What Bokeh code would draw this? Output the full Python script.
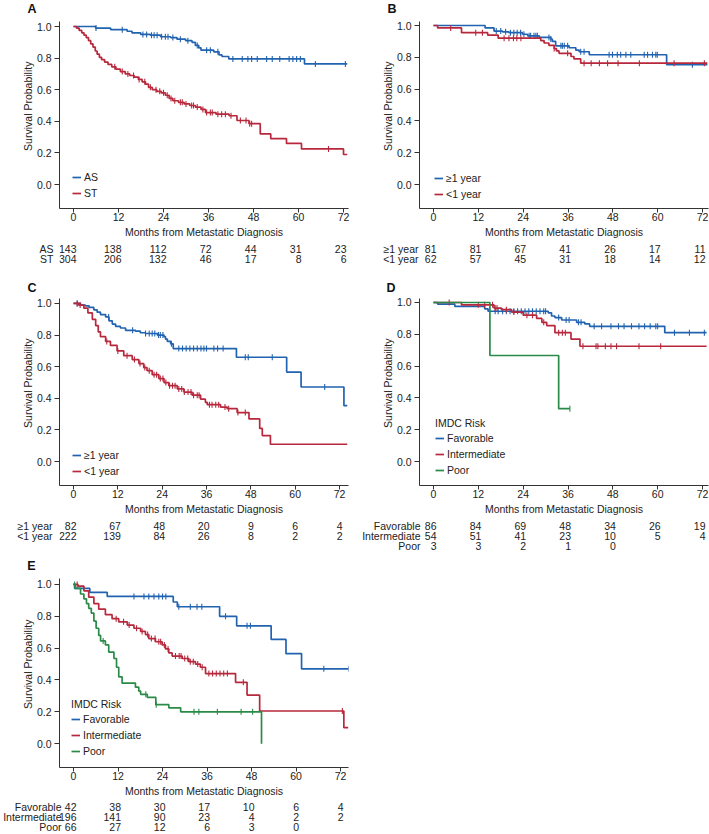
import math
from bokeh.plotting import figure
from bokeh.models import Range1d, FixedTicker, NumeralTickFormatter, Legend, LegendItem
from bokeh.layouts import row, column
from bokeh.embed import file_html
from bokeh.resources import INLINE
from bokeh.core.properties import value

FONT = "Liberation Sans"
BLUE = "#2163b0"
RED = "#b8283c"
GREEN = "#2a8a48"
TXT = "#222222"
FS = "10.5px"

MONTHS = [0, 12, 24, 36, 48, 60, 72]
YTICKS = [0.0, 0.2, 0.4, 0.6, 0.8, 1.0]
XLABEL = "Months from Metastatic Diagnosis"
YLABEL = "\u00a0" * 6 + "Survival Probability"

# ---------------- Panel A ----------------
A_AS_t = [0, 5.9, 9.9, 14.3, 15.6, 17.9, 20.5, 23.2, 25.9, 27.6, 29.9, 31.6, 32.5, 33.4, 34.0, 37.4, 38.8, 39.6, 41.4, 61.6]
A_AS_s = [1.0, 0.99, 0.98, 0.97, 0.96, 0.95, 0.945, 0.935, 0.93, 0.92, 0.91, 0.90, 0.88, 0.865, 0.85, 0.84, 0.82, 0.81, 0.795, 0.763]
A_AS_end = 73.0
A_AS_c = [6, 13, 18.5, 19.5, 20.8, 21.5, 22.3, 23.5, 24.5, 25.2, 26.5, 28.5, 30.5, 33, 35.5, 36.5, 38.5, 42.5, 45, 46.5,
          47.5, 49, 51.5, 53, 55, 57.5, 58.5, 59.5, 60.5, 64.5, 72.5]
A_ST_t = [0, 0.8, 1.5, 2.2, 2.8, 3.4, 4.0, 4.6, 5.2, 5.8, 6.3, 6.9, 7.5, 8.3, 9.2, 10.2, 11.3, 12.5, 13.8, 15.0, 16.2, 17.3,
          18.3, 19.2, 20.0, 21.0, 22.2, 23.4, 24.5, 25.5, 26.5, 28.0, 29.5, 31.0, 32.5, 34.0, 35.2, 38.0, 41.5, 43.6, 46.8,
          49.8, 52.6, 56.8, 60.8, 72.0]
A_ST_s = [1.0, 0.99, 0.975, 0.96, 0.945, 0.93, 0.91, 0.89, 0.87, 0.845, 0.825, 0.805, 0.79, 0.775, 0.76, 0.745, 0.73, 0.715,
          0.70, 0.69, 0.68, 0.665, 0.65, 0.635, 0.615, 0.60, 0.59, 0.58, 0.565, 0.545, 0.53, 0.52, 0.51, 0.50, 0.49, 0.475,
          0.455, 0.445, 0.435, 0.405, 0.385, 0.32, 0.29, 0.26, 0.225, 0.19]
A_ST_end = 73.0
A_ST_c = [11, 13, 14.5, 16, 17.5, 19, 20.5, 22, 23, 24, 25, 26, 27, 28.5, 29, 30, 31.5, 32, 33, 34.5, 35.5, 36.5, 37, 38.5,
          39.5, 40.5, 42, 44.5, 46, 47, 47.5, 68]
A_rows = ["AS", "ST"]
A_AS_n = [143, 138, 112, 72, 44, 31, 23]
A_ST_n = [304, 206, 132, 46, 17, 8, 6]

# ---------------- Panel B ----------------
B_G1_t = [0, 13.8, 16.2, 18.5, 20.2, 23.8, 25.2, 28.3, 31.4, 31.8, 32.7, 36.3, 38.1, 39.0, 41.7, 62.4]
B_G1_s = [1.0, 0.985, 0.965, 0.96, 0.955, 0.945, 0.935, 0.925, 0.915, 0.90, 0.872, 0.86, 0.845, 0.835, 0.816, 0.753]
B_G1_end = 73.3
B_G1_c = [16.8, 18.0, 19.3, 20.6, 21.5, 22.4, 23.3, 24.2, 25.6, 26.0, 26.9, 27.4, 27.8, 30.9, 31.4, 34.1, 34.5, 35.0, 35.9,
          39.4, 40.3, 47.0, 47.9, 49.2, 50.1, 51.5, 52.8, 56.4, 57.3, 58.6, 59.5, 59.9, 69.3]
B_L1_t = [0, 1.1, 7.5, 14.5, 17.3, 28.7, 29.6, 30.9, 32.3, 32.9, 33.6, 36.8, 37.6, 39.4]
B_L1_s = [1.0, 0.985, 0.955, 0.94, 0.92, 0.905, 0.89, 0.875, 0.855, 0.84, 0.825, 0.805, 0.79, 0.763]
B_L1_end = 73.3
B_L1_c = [4.6, 11.3, 13.1, 18.9, 20.2, 21.4, 22.3, 23.4, 32.3, 35.9, 40.3, 42.2, 44.4, 46.6, 49.4, 55.1, 64.4, 72.5]
B_rows = ["\u22651 year", "<1 year"]
B_G1_n = [81, 81, 67, 41, 26, 17, 11]
B_L1_n = [62, 57, 45, 31, 18, 14, 12]

# ---------------- Panel C ----------------
C_G1_t = [0, 1.9, 3.2, 4.2, 5.5, 6.4, 7.3, 8.7, 9.6, 10.5, 11.4, 12.7, 14.1, 16.8, 18.1, 19.5, 22.7, 24.5, 24.9, 25.4,
          26.3, 27.0, 44.1, 57.7, 61.6, 73.2]
C_G1_s = [1.0, 0.99, 0.985, 0.975, 0.96, 0.945, 0.93, 0.915, 0.89, 0.87, 0.855, 0.845, 0.83, 0.825, 0.815, 0.81, 0.80,
          0.79, 0.775, 0.76, 0.745, 0.715, 0.66, 0.566, 0.472, 0.354]
C_G1_end = 74.1
C_G1_c = [1.0, 9.5, 16.0, 19.5, 20.5, 21.3, 22.0, 23.0, 23.5, 24.2, 26.5, 28.5, 29.5, 30.5, 31.5, 32.5, 33.5, 34.5, 35.3,
          36.0, 38.0, 39.0, 40.5, 46.5, 47.3, 53.8, 68.0]
C_L1_t = [0, 1.4, 2.8, 3.9, 5.1, 6.0, 6.7, 7.3, 8.7, 10.0, 11.8, 13.6, 15.9, 17.7, 19.0, 19.9, 21.3, 23.1, 24.5, 25.8,
          28.1, 29.9, 32.1, 34.4, 35.7, 36.2, 39.8, 41.6, 44.3, 47.5, 50.4, 51.1, 53.3]
C_L1_s = [1.0, 0.99, 0.97, 0.94, 0.90, 0.86, 0.82, 0.79, 0.76, 0.735, 0.70, 0.67, 0.645, 0.62, 0.595, 0.575, 0.55, 0.525,
          0.50, 0.48, 0.46, 0.44, 0.42, 0.395, 0.375, 0.36, 0.345, 0.335, 0.31, 0.27, 0.21, 0.165, 0.11]
C_L1_end = 74.1
C_L1_c = [1.0, 1.8, 9.0, 12.0, 14.5, 16.5, 18.0, 19.3, 20.5, 21.8, 22.5, 23.5, 24.2, 25.0, 26.0, 26.8, 27.5, 28.5, 29.3,
          30.0, 31.0, 31.8, 32.5, 33.5, 34.0, 36.8, 37.5, 38.5, 39.3, 41.0, 42.0, 44.5, 46.5]
C_rows = ["\u22651 year", "<1 year"]
C_G1_n = [82, 67, 48, 20, 9, 6, 4]
C_L1_n = [222, 139, 84, 26, 8, 2, 2]

# ---------------- Panel D ----------------
D_FAV_t = [0, 1.1, 5.7, 13.7, 14.6, 30.7, 31.6, 32.5, 34.3, 38.3, 40.5, 41.8, 61.9]
D_FAV_s = [1.0, 0.99, 0.975, 0.96, 0.945, 0.935, 0.915, 0.905, 0.89, 0.875, 0.865, 0.85, 0.81]
D_FAV_end = 73.1
D_FAV_c = [16.5, 17.3, 18.5, 19.5, 20.5, 21.5, 22.5, 23.5, 24.5, 25.5, 26.5, 27.5, 28.5, 29.5, 30.0, 33.5, 35.5, 36.3,
           38.8, 39.5, 43.0, 45.0, 47.5, 49.5, 51.0, 53.0, 55.0, 56.5, 58.0, 59.5, 60.0, 64.5, 68.5, 72.5]
D_INT_t = [0, 7.5, 16.2, 18.2, 20.9, 24.0, 27.6, 29.0, 30.3, 32.5, 36.8, 39.2]
D_INT_s = [1.0, 0.985, 0.965, 0.955, 0.94, 0.92, 0.90, 0.875, 0.855, 0.81, 0.77, 0.725]
D_INT_end = 73.1
D_INT_c = [4.2, 12.0, 13.7, 15.8, 16.5, 17.0, 19.5, 21.5, 25.0, 26.5, 29.5, 33.5, 34.5, 35.3, 40.0, 43.5, 44.0, 46.0,
           47.5, 49.0, 55.0, 60.8]
D_POOR_t = [0, 15.1, 33.5]
D_POOR_s = [1.0, 0.667, 0.333]
D_POOR_end = 36.5
D_POOR_c = [36.5]
D_rows = ["Favorable", "Intermediate", "Poor"]
D_FAV_n = [86, 84, 69, 48, 34, 26, 19]
D_INT_n = [54, 51, 41, 23, 10, 5, 4]
D_POOR_n = [3, 3, 2, 1, 0]

# ---------------- Panel E ----------------
E_FAV_t = [0, 0.3, 4.4, 9.1, 26.9, 28.0, 39.4, 44.0, 53.3, 57.3, 61.5]
E_FAV_s = [1.0, 0.975, 0.95, 0.925, 0.89, 0.86, 0.80, 0.74, 0.655, 0.565, 0.47]
E_FAV_end = 74.2
E_FAV_c = [16.3, 19.0, 20.3, 21.7, 23.0, 24.0, 24.9, 28.4, 31.5, 33.3, 34.6, 41.0, 46.8, 47.7, 67.5, 74.2]
E_INT_t = [0, 1.2, 2.8, 4.1, 5.5, 6.8, 8.6, 10.4, 12.2, 14.5, 16.3, 18.1, 19.4, 20.3, 22.1, 23.9, 24.8, 25.7, 26.6, 29.3,
           31.1, 32.9, 34.2, 35.6, 43.7, 46.8, 50.2, 72.9]
E_INT_s = [1.0, 0.99, 0.96, 0.92, 0.88, 0.845, 0.81, 0.785, 0.765, 0.745, 0.725, 0.705, 0.685, 0.66, 0.64, 0.62, 0.595,
           0.57, 0.55, 0.535, 0.515, 0.50, 0.48, 0.44, 0.385, 0.305, 0.205, 0.10]
E_INT_end = 74.1
E_INT_c = [1.0, 11.5, 13.5, 15.0, 17.0, 18.5, 20.0, 21.0, 22.0, 23.0, 23.5, 24.5, 25.5, 27.5, 28.5, 29.0, 30.0, 30.8,
           31.5, 32.3, 33.5, 34.7, 36.5, 37.5, 38.5, 39.5, 40.5, 41.5, 45.8, 72.5]
E_POOR_t = [0, 0.5, 1.9, 2.8, 3.5, 4.1, 4.8, 5.5, 6.1, 6.8, 7.3, 8.6, 9.5, 10.9, 11.6, 12.2, 13.1, 16.7, 17.6, 18.1, 19.9,
            22.2, 25.7, 28.9, 50.7]
E_POOR_s = [1.0, 0.975, 0.94, 0.91, 0.88, 0.85, 0.82, 0.77, 0.725, 0.68, 0.645, 0.62, 0.575, 0.535, 0.48, 0.42, 0.38,
            0.355, 0.33, 0.31, 0.29, 0.245, 0.225, 0.20, 0.0]
E_POOR_end = 50.7
E_POOR_c = [0.3, 8.0, 19.5, 22.3, 32.5, 33.8, 38.8, 45.2, 48.3]
E_rows = ["Favorable", "Intermediate", "Poor"]
E_FAV_n = [42, 38, 30, 17, 10, 6, 4]
E_INT_n = [196, 141, 90, 23, 4, 2, 2]
E_POOR_n = [66, 27, 12, 6, 3, 0]

# ---------------- layout geometry (pixel positions in the page) ----------------
# stop: top of letter strip; top: top of plot figure; pb: bottom of plot figure; tb: bottom of table figure
GA = dict(left=0, width=354, stop=0, top=16, ft=21, fb=208, pb=240, tb=280, fl=59, fr=348, px0=73, px72=343,
          py1=26, py0=184, rows=[248, 258], lab_gap=6, leg=(13, 8), letter_y=10, letter_gap=23)
GB = dict(left=354, width=355, stop=0, top=16, ft=21, fb=208, pb=240, tb=280, fl=419, fr=708, px0=433, px72=702,
          py1=25, py0=184, rows=[248, 258], lab_gap=1, leg=(15, 7), letter_y=10, letter_gap=23)
GC = dict(left=0, width=354, stop=280, top=295, ft=298, fb=486, pb=517, tb=556, fl=59, fr=348, px0=73, px72=339,
          py1=303, py0=462, rows=[525, 535], lab_gap=7, leg=(13, 7), letter_y=287, letter_gap=23)
GD = dict(left=354, width=355, stop=280, top=295, ft=298, fb=486, pb=517, tb=556, fl=419, fr=708, px0=433, px72=702,
          py1=302, py0=462, rows=[525, 535, 545], lab_gap=-1, leg=(16, 8), letter_y=287, letter_gap=24)
GE = dict(left=0, width=354, stop=556, top=573, ft=578, fb=768, pb=799, tb=833, fl=59, fr=348, px0=73, px72=340,
          py1=584, py0=744, rows=[806, 816, 826], lab_gap=-2, leg=(12, 9), letter_y=565, letter_gap=24)


def surv_at(ts, ss, t):
    v = ss[0]
    for ti, si in zip(ts, ss):
        if ti <= t:
            v = si
        else:
            break
    return v


def style_hidden_axis(ax):
    ax.axis_line_color = None
    ax.major_tick_line_color = None
    ax.minor_tick_line_color = None
    ax.major_tick_out = 0
    ax.major_tick_in = 0


def make_panel(g, letter, curves, names, counts, legend_title=None):
    xs = (g["px72"] - g["px0"]) / 72.0
    ys = float(g["py0"] - g["py1"])
    px2x = lambda px: (px - g["px0"]) / xs
    py2y = lambda py: (g["py0"] - py) / ys
    xr = Range1d(px2x(g["fl"]), px2x(g["fr"]))
    W = g["width"]
    bl = g["fl"] - g["left"]
    br = g["left"] + W - g["fr"]

    # ---- letter strip ----
    sh = g["top"] - g["stop"]
    s = figure(width=W, height=sh, x_range=xr, y_range=Range1d(sh, 0), output_backend="svg",
               toolbar_location=None, min_border_left=bl, min_border_right=br, min_border_top=0,
               min_border_bottom=0, x_axis_location=None)
    s.grid.visible = False
    s.outline_line_color = None
    ly = g["letter_y"] - g["stop"]
    s.yaxis.ticker = FixedTicker(ticks=[ly])
    s.yaxis.major_label_overrides = {ly: letter}
    style_hidden_axis(s.yaxis[0])
    s.yaxis.major_label_standoff = g["letter_gap"]
    s.yaxis.major_label_text_font = FONT
    s.yaxis.major_label_text_font_size = "12.5px"
    s.yaxis.major_label_text_font_style = "bold"
    s.yaxis.major_label_text_color = "#111111"

    # ---- survival plot ----
    yr = Range1d(py2y(g["fb"]), py2y(g["ft"]))
    H = g["pb"] - g["top"]
    p = figure(width=W, height=H, x_range=xr, y_range=yr, output_backend="svg", toolbar_location=None,
               min_border_left=bl, min_border_right=br,
               min_border_top=g["ft"] - g["top"], min_border_bottom=g["pb"] - g["fb"])
    p.grid.visible = False
    p.outline_line_color = None
    p.xaxis.ticker = FixedTicker(ticks=MONTHS)
    p.yaxis.ticker = FixedTicker(ticks=YTICKS)
    p.yaxis.formatter = NumeralTickFormatter(format="0.0")
    p.xaxis.axis_label = XLABEL
    p.yaxis.axis_label = YLABEL
    for ax in (p.xaxis[0], p.yaxis[0]):
        ax.axis_line_color = "#333333"
        ax.major_tick_line_color = "#333333"
        ax.major_tick_in = 0
        ax.minor_tick_line_color = None
        ax.major_label_text_font = FONT
        ax.major_label_text_font_size = FS
        ax.major_label_text_color = TXT
        ax.axis_label_text_font = FONT
        ax.axis_label_text_font_size = FS
        ax.axis_label_text_font_style = "normal"
        ax.axis_label_text_color = TXT
    p.xaxis.major_tick_out = 4
    p.xaxis.major_label_standoff = 0
    p.xaxis.axis_label_standoff = 2
    p.yaxis.major_tick_out = 5
    p.yaxis.major_label_standoff = 3
    p.yaxis.axis_label_standoff = 0

    items = []
    for (ts, ss, end, cens, color, label) in curves:
        x = list(ts) + [end]
        y = list(ss) + [ss[-1]]
        r = p.step(x=x, y=y, mode="after", line_color=color, line_width=1.7)
        cy = [surv_at(ts, ss, c) for c in cens]
        p.scatter(x=cens, y=cy, marker="dash", angle=math.pi / 2, size=6, line_color=color, line_width=1.1)
        items.append(LegendItem(label=label, renderers=[r]))
    leg = Legend(items=items, location=g["leg"], border_line_color=None, background_fill_alpha=0,
                 padding=0, margin=0, spacing=2, glyph_width=9, glyph_height=14, label_height=14,
                 label_standoff=3, label_text_font=FONT, label_text_font_size=FS, label_text_color=TXT)
    if legend_title:
        leg.title = legend_title
        leg.title_text_font = FONT
        leg.title_text_font_size = FS
        leg.title_text_font_style = "normal"
        leg.title_text_color = TXT
        leg.title_standoff = 2
    p.add_layout(leg)

    # ---- number-at-risk table ----
    th = g["tb"] - g["pb"]
    t = figure(width=W, height=th, x_range=xr, y_range=Range1d(th, 0), output_backend="svg",
               toolbar_location=None, min_border_left=bl, min_border_right=br, min_border_top=0,
               min_border_bottom=0, x_axis_location=None)
    t.grid.visible = False
    t.outline_line_color = None
    row_y = [ry - g["pb"] for ry in g["rows"][:len(names)]]
    t.yaxis.ticker = FixedTicker(ticks=row_y)
    t.yaxis.major_label_overrides = {yy: nm for yy, nm in zip(row_y, names)}
    style_hidden_axis(t.yaxis[0])
    t.yaxis.major_label_standoff = g["lab_gap"]
    t.yaxis.major_label_text_font = FONT
    t.yaxis.major_label_text_font_size = FS
    t.yaxis.major_label_text_color = TXT
    for yy, cnt in zip(row_y, counts):
        t.text(x=MONTHS[:len(cnt)], y=[yy] * len(cnt), text=[str(c) for c in cnt], text_align="right",
               text_baseline="middle", x_offset=3, text_font=value(FONT), text_font_size=FS, text_color=TXT)

    return column(s, p, t, spacing=0)


pA = make_panel(GA, "A", [(A_AS_t, A_AS_s, A_AS_end, A_AS_c, BLUE, "AS"),
                          (A_ST_t, A_ST_s, A_ST_end, A_ST_c, RED, "ST")], A_rows, [A_AS_n, A_ST_n])
pB = make_panel(GB, "B", [(B_G1_t, B_G1_s, B_G1_end, B_G1_c, BLUE, "\u22651 year"),
                          (B_L1_t, B_L1_s, B_L1_end, B_L1_c, RED, "<1 year")], B_rows, [B_G1_n, B_L1_n])
pC = make_panel(GC, "C", [(C_G1_t, C_G1_s, C_G1_end, C_G1_c, BLUE, "\u22651 year"),
                          (C_L1_t, C_L1_s, C_L1_end, C_L1_c, RED, "<1 year")], C_rows, [C_G1_n, C_L1_n])
pD = make_panel(GD, "D", [(D_FAV_t, D_FAV_s, D_FAV_end, D_FAV_c, BLUE, "Favorable"),
                          (D_INT_t, D_INT_s, D_INT_end, D_INT_c, RED, "Intermediate"),
                          (D_POOR_t, D_POOR_s, D_POOR_end, D_POOR_c, GREEN, "Poor")],
                D_rows, [D_FAV_n, D_INT_n, D_POOR_n], legend_title="IMDC Risk")
pE = make_panel(GE, "E", [(E_FAV_t, E_FAV_s, E_FAV_end, E_FAV_c, BLUE, "Favorable"),
                          (E_INT_t, E_INT_s, E_INT_end, E_INT_c, RED, "Intermediate"),
                          (E_POOR_t, E_POOR_s, E_POOR_end, E_POOR_c, GREEN, "Poor")],
                E_rows, [E_FAV_n, E_INT_n, E_POOR_n], legend_title="IMDC Risk")

layout = column(row(pA, pB, spacing=0), row(pC, pD, spacing=0), row(pE, spacing=0), spacing=0)

open("out.html", "w").write(file_html(layout, INLINE))
